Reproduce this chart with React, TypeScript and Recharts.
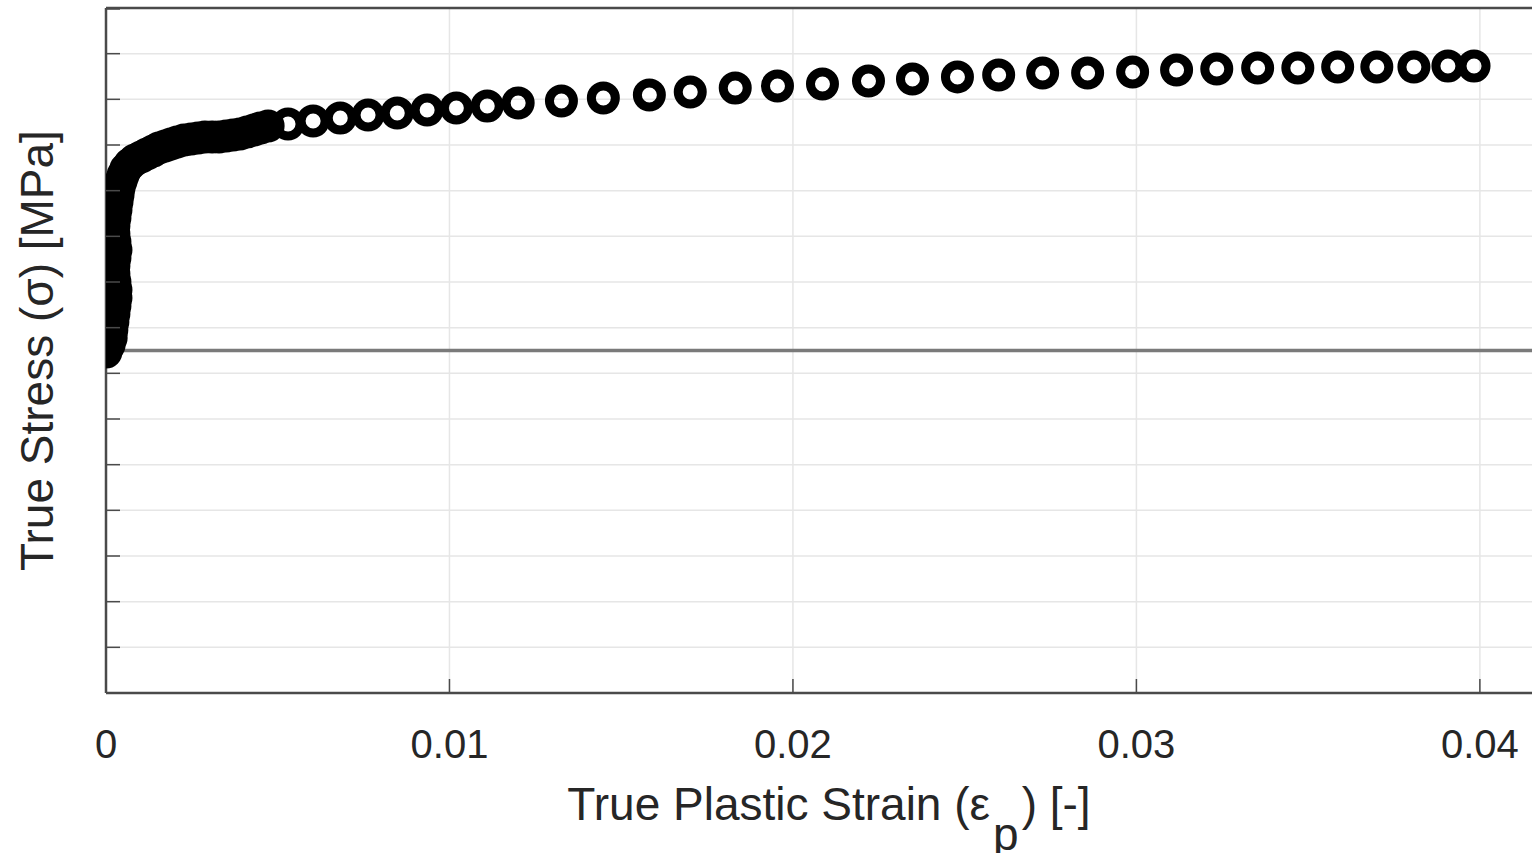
import React from 'react';
import { ScatterChart, Scatter, XAxis, YAxis, CartesianGrid, ReferenceLine, Label } from 'recharts';

const strain = [
  0, 0.00009, 0.00015, 0.00017, 0.0002, 0.00023, 0.00026, 0.00029, 0.00029, 0.00026,
  0.00023, 0.00023, 0.00026, 0.00029, 0.00026, 0.00023, 0.00023, 0.00026, 0.00029, 0.00032,
  0.00035, 0.00038, 0.00044, 0.0005, 0.00058, 0.0007, 0.00084, 0.00102, 0.00119, 0.00137,
  0.00154, 0.00172, 0.00189, 0.00207, 0.00227, 0.00248, 0.00268, 0.00288, 0.00309, 0.00329,
  0.0035, 0.0037, 0.0039, 0.00411, 0.00431, 0.00449, 0.00472, 0.0053, 0.00603, 0.00682,
  0.00763, 0.00848, 0.00935, 0.0102, 0.0111, 0.012, 0.01326, 0.01448, 0.01582, 0.01701,
  0.01832, 0.01955, 0.02086, 0.0222, 0.02348, 0.02479, 0.02599, 0.02727, 0.02858, 0.02989,
  0.03117, 0.03234, 0.03353, 0.0347, 0.03586, 0.037, 0.03808, 0.03907, 0.03983,
];

const stress = [
  373.4, 381.0, 388.7, 397.4, 406.2, 415.0, 423.7, 432.5, 441.2, 450.0,
  458.8, 467.5, 476.3, 485.0, 493.8, 502.6, 511.3, 520.1, 528.8, 537.6,
  545.3, 552.9, 560.6, 567.2, 573.7, 579.2, 583.6, 586.9, 590.1, 593.4,
  596.7, 598.9, 601.1, 603.3, 605.5, 606.6, 607.7, 608.8, 608.8, 608.8,
  609.9, 610.9, 612.0, 614.2, 616.4, 618.6, 620.8, 623.0, 626.3, 629.6,
  632.8, 635.0, 638.3, 640.5, 642.7, 646.0, 648.2, 651.5, 654.7, 658.0,
  662.4, 664.6, 666.8, 670.1, 672.3, 674.5, 676.6, 678.8, 678.8, 679.9,
  682.1, 683.2, 684.3, 684.3, 685.4, 685.4, 685.4, 686.5, 686.5,
];

const xTicks = [0, 0.01, 0.02, 0.03, 0.04];
const xTickLabels = ['0', '0.01', '0.02', '0.03', '0.04'];
const yTicks = [0, 50, 100, 150, 200, 250, 300, 350, 400, 450, 500, 550, 600, 650, 700, 750];
const xDomain = [0, 0.0421];
const yDomain = [0, 750];
const referenceStress = 375;
const xLabel = 'True Plastic Strain (ε';
const xLabelSub = 'p';
const xLabelEnd = ') [-]';
const yLabel = 'True Stress (σ) [MPa]';

const data = strain.map((x, i) => ({ x, y: stress[i] }));

const FONT = '"Liberation Sans", Arial, Helvetica, sans-serif';
const TEXT = '#262626';
const AXIS = '#4a4a4a';

const XTick = (props: any) => {
  const { x, y, payload } = props;
  const idx = xTicks.indexOf(payload.value);
  const label = idx >= 0 ? xTickLabels[idx] : String(payload.value);
  return (
    <g>
      <line x1={x} x2={x} y1={y} y2={y - 14} stroke={AXIS} strokeWidth={1.5} />
      <text x={x} y={y + 65} textAnchor="middle" fontFamily={FONT} fontSize={40} fill={TEXT}>
        {label}
      </text>
    </g>
  );
};

const YTick = (props: any) => {
  const { x, y } = props;
  return <line x1={x} x2={x + 14} y1={y} y2={y} stroke={AXIS} strokeWidth={1.5} />;
};

const XLabelContent = (props: any) => {
  const vb = props.viewBox;
  const cx = vb.x + vb.width / 2;
  const by = vb.y + 127;
  return (
    <text x={cx} y={by} textAnchor="middle" fontFamily={FONT} fontSize={46} fill={TEXT}>
      {xLabel}
      <tspan dy={30} dx={3}>{xLabelSub}</tspan>
      <tspan dy={-30} dx={3}>{xLabelEnd}</tspan>
    </text>
  );
};

const YLabelContent = (props: any) => {
  const vb = props.viewBox;
  const bx = vb.x + 47;
  const cy = vb.y + vb.height / 2;
  return (
    <text
      x={bx}
      y={cy}
      textAnchor="middle"
      fontFamily={FONT}
      fontSize={46}
      fill={TEXT}
      transform={`rotate(-90, ${bx}, ${cy})`}
    >
      {yLabel}
    </text>
  );
};

const Marker = (props: any) => (
  <circle cx={props.cx} cy={props.cy} r={12} fill="none" stroke="#000" strokeWidth={9} />
);

export default function App() {
  return (
    <div
      style={{
        position: 'absolute',
        left: 0,
        top: 0,
        width: 1532,
        height: 853,
        overflow: 'hidden',
        background: '#fff',
      }}
    >
      <ScatterChart width={1560} height={853} margin={{ top: 8, right: 8, bottom: 0, left: 6 }}>
        <CartesianGrid stroke="#e6e6e6" strokeWidth={1.5} />
        <XAxis
          type="number"
          dataKey="x"
          domain={xDomain}
          ticks={xTicks}
          allowDataOverflow
          height={160}
          tickSize={0}
          tickMargin={0}
          tickLine={false}
          axisLine={{ stroke: AXIS, strokeWidth: 2.5 }}
          tick={<XTick />}
        >
          <Label content={<XLabelContent />} />
        </XAxis>
        <YAxis
          type="number"
          dataKey="y"
          domain={yDomain}
          ticks={yTicks}
          width={100}
          tickSize={0}
          tickMargin={0}
          tickLine={false}
          axisLine={{ stroke: AXIS, strokeWidth: 2.5 }}
          tick={<YTick />}
        >
          <Label content={<YLabelContent />} />
        </YAxis>
        <ReferenceLine y={yDomain[1]} stroke={AXIS} strokeWidth={2.5} />
        <ReferenceLine y={referenceStress} stroke="#7a7a7a" strokeWidth={3.5} />
        <Scatter data={data} shape={<Marker />} isAnimationActive={false} />
      </ScatterChart>
    </div>
  );
}
